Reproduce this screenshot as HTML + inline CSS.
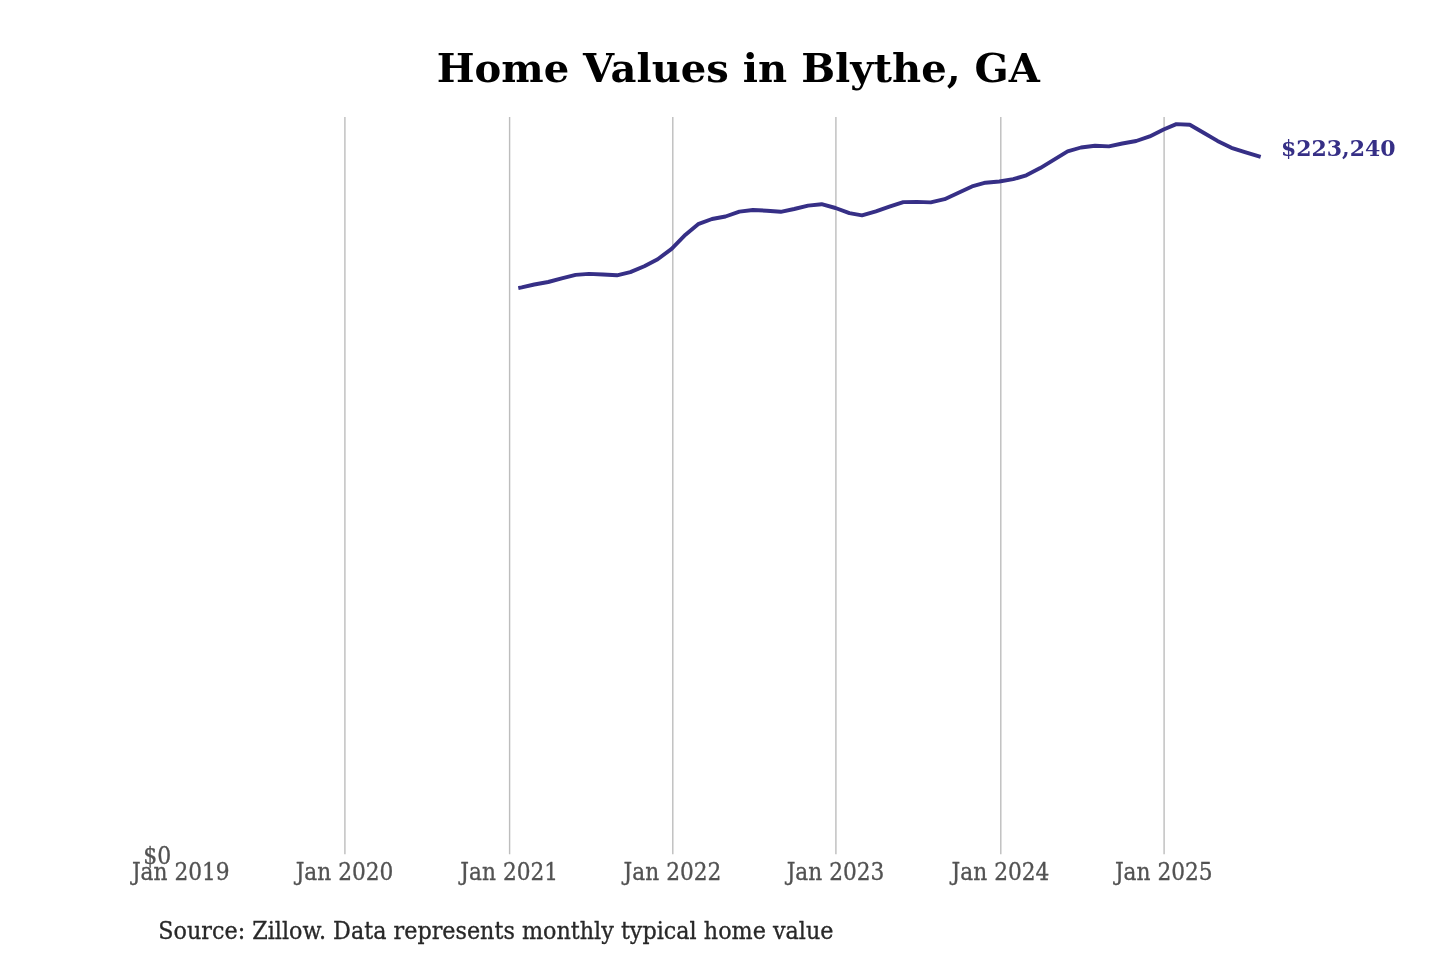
<!DOCTYPE html>
<html lang="en">
<head>
<meta charset="utf-8">
<title>Home Values in Blythe, GA</title>
<style>
html,body{margin:0;padding:0;background:#ffffff;}
body{width:1440px;height:960px;overflow:hidden;}
svg{display:block;font-family:"DejaVu Serif","Liberation Serif",serif;}
</style>
</head>
<body>
<svg role="img" aria-label="Home Values in Blythe, GA" width="1440" height="960" viewBox="0 0 1440 960">
<rect width="1440" height="960" fill="#ffffff"/>
<g stroke="#bdbdbd" stroke-width="1.4" fill="none">
<line x1="344.9" y1="117.1" x2="344.9" y2="854.3"/>
<line x1="509.6" y1="117.1" x2="509.6" y2="854.3"/>
<line x1="672.8" y1="117.1" x2="672.8" y2="854.3"/>
<line x1="835.9" y1="117.1" x2="835.9" y2="854.3"/>
<line x1="1000.8" y1="117.1" x2="1000.8" y2="854.3"/>
<line x1="1164.1" y1="117.1" x2="1164.1" y2="854.3"/>
</g>
<polyline points="520.2,287.7 521.7,287.4 534.3,284.5 548.2,282.0 561.7,278.3 575.6,274.9 589.0,273.9 603.0,274.5 616.9,275.3 630.3,272.1 644.3,266.2 657.7,259.2 671.6,248.9 685.5,234.7 698.1,224.2 712.0,219.0 725.5,216.5 739.4,211.6 752.9,210.0 766.8,210.7 780.7,211.8 794.2,209.0 808.1,205.6 821.6,204.2 835.5,208.0 849.4,213.2 862.0,215.4 875.9,211.3 889.4,206.7 903.3,202.1 916.7,201.9 930.7,202.4 944.6,199.2 958.0,193.0 972.0,186.4 985.4,182.7 999.3,181.5 1013.2,179.2 1026.3,175.3 1040.2,168.1 1053.7,159.8 1067.6,151.4 1081.0,147.5 1095.0,145.8 1108.9,146.4 1122.3,143.5 1136.2,141.0 1149.7,136.4 1163.6,129.5 1176.3,124.1 1189.8,124.8 1204.0,133.0 1217.5,140.9 1231.4,147.8 1244.9,152.1 1258.8,156.4" fill="none" stroke="#362f86" stroke-width="3.9" stroke-linejoin="round" stroke-linecap="square"/>
<text transform="translate(738.25,81.70) scale(1.002,0.963)" font-size="40" text-anchor="middle" fill="#000000" font-weight="bold">Home Values in Blythe, GA</text>
<text transform="translate(171.20,863.70) scale(1.0,1.07)" font-size="22" text-anchor="end" fill="#525252" stroke="#525252" stroke-width="0.3" stroke-linejoin="round">$0</text>
<text transform="translate(180.80,879.70) scale(0.987,1.08)" font-size="22" text-anchor="middle" fill="#525252" stroke="#525252" stroke-width="0.3" stroke-linejoin="round">Jan 2019</text>
<text transform="translate(344.55,879.70) scale(0.987,1.08)" font-size="22" text-anchor="middle" fill="#525252" stroke="#525252" stroke-width="0.3" stroke-linejoin="round">Jan 2020</text>
<text transform="translate(509.25,879.70) scale(0.987,1.08)" font-size="22" text-anchor="middle" fill="#525252" stroke="#525252" stroke-width="0.3" stroke-linejoin="round">Jan 2021</text>
<text transform="translate(672.50,879.70) scale(0.987,1.08)" font-size="22" text-anchor="middle" fill="#525252" stroke="#525252" stroke-width="0.3" stroke-linejoin="round">Jan 2022</text>
<text transform="translate(835.55,879.70) scale(0.987,1.08)" font-size="22" text-anchor="middle" fill="#525252" stroke="#525252" stroke-width="0.3" stroke-linejoin="round">Jan 2023</text>
<text transform="translate(1000.50,879.70) scale(0.987,1.08)" font-size="22" text-anchor="middle" fill="#525252" stroke="#525252" stroke-width="0.3" stroke-linejoin="round">Jan 2024</text>
<text transform="translate(1163.80,879.70) scale(0.987,1.08)" font-size="22" text-anchor="middle" fill="#525252" stroke="#525252" stroke-width="0.3" stroke-linejoin="round">Jan 2025</text>
<text transform="translate(1280.90,156.00) scale(1.0,1.04)" font-size="22" text-anchor="start" fill="#362f86" font-weight="bold">$223,240</text>
<text transform="translate(158.30,939.30) scale(1.0137,1.07)" font-size="22" text-anchor="start" fill="#282828" stroke="#282828" stroke-width="0.3" stroke-linejoin="round">Source: Zillow. Data represents monthly typical home value</text>
</svg>
</body>
</html>
